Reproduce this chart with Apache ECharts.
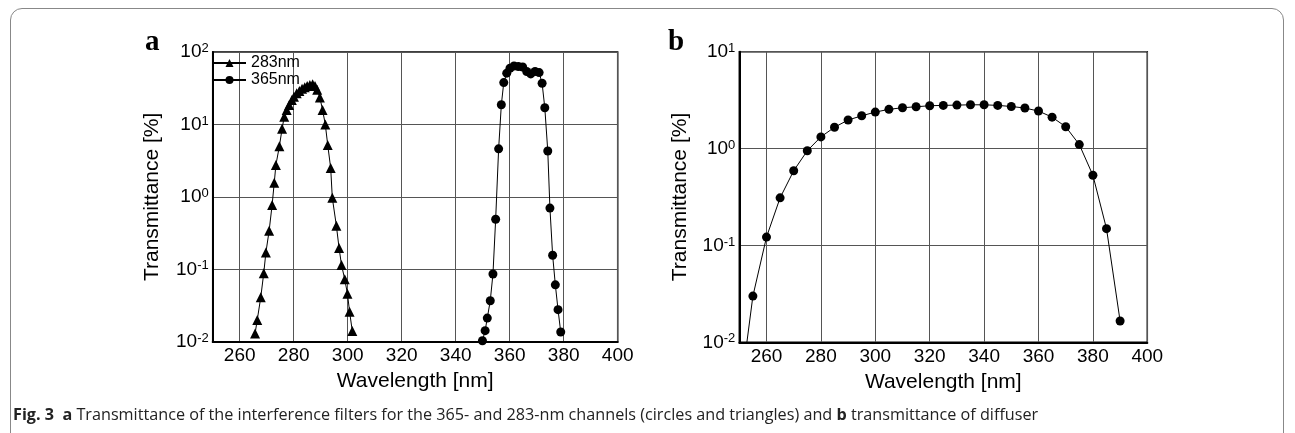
<!DOCTYPE html>
<html>
<head>
<meta charset="utf-8">
<script src="https://cdn.jsdelivr.net/npm/echarts@6/dist/echarts.min.js"></script>
<style>
  html, body { margin:0; padding:0; background:#fff; width:1295px; height:433px; overflow:hidden; }
  #frame { position:absolute; left:10px; top:8px; width:1274px; height:440px; border:1px solid #888; border-radius:12px; box-sizing:border-box; }
  #chart { position:absolute; left:0; top:0; width:1295px; height:433px; }
  #caption { position:absolute; left:13px; top:404px; font-family:'Open Sans', sans-serif; font-size:16.2px; line-height:20px; color:#222; white-space:nowrap; }
  #caption b { font-weight:700; }
</style>
</head>
<body>
<div id="frame"></div>
<div id="chart"></div>
<div id="caption"><b>Fig. 3</b>&nbsp; <b>a</b> Transmittance of the interference filters for the 365- and 283-nm channels (circles and triangles) and <b>b</b> transmittance of diffuser</div>
<script>
// ---- data ----
const xTicks = [260, 280, 300, 320, 340, 360, 380, 400];

const wl283 = [265.7, 266.5, 267.8, 268.9, 269.7, 270.9, 272.0, 272.8, 273.4, 274.7, 275.7, 276.5, 277.4, 278.3, 279.3, 280.1, 281.1, 282.1, 283.1, 284.1, 285.0, 286.0, 287.0, 287.9, 288.7, 289.7, 290.7, 291.7, 292.6, 293.7, 294.3, 295.8, 296.8, 297.7, 298.9, 299.9, 300.7, 301.7];
const t283 = [0.013, 0.020, 0.041, 0.088, 0.17, 0.34, 0.77, 1.57, 2.75, 5.0, 8.7, 12.8, 15.8, 18.5, 21.8, 24.2, 27, 29, 31, 32.7, 34, 35, 36, 34, 30, 23.5, 15.8, 10, 5.2, 2.5, 0.97, 0.40, 0.197, 0.115, 0.073, 0.046, 0.026, 0.014];

const wl365 = [349.9, 350.9, 351.7, 352.8, 353.8, 354.8, 355.9, 356.9, 357.8, 358.9, 360.1, 361.6, 363.2, 364.8, 366.3, 367.8, 369.4, 370.9, 372.0, 373.0, 374.1, 374.9, 375.9, 376.9, 377.9, 378.9];
const t365 = [0.0103, 0.0142, 0.0212, 0.0368, 0.086, 0.49, 4.6, 18.7, 37.8, 51, 59.7, 64, 63, 62, 53.7, 49.8, 53.7, 52, 37, 17, 4.3, 0.70, 0.156, 0.061, 0.0277, 0.0136];

const wlDiff = [250, 255, 260, 265, 270, 275, 280, 285, 290, 295, 300, 305, 310, 315, 320, 325, 330, 335, 340, 345, 350, 355, 360, 365, 370, 375, 380, 385, 390];
const tDiff = [0.0025, 0.030, 0.122, 0.31, 0.59, 0.95, 1.32, 1.66, 1.97, 2.18, 2.38, 2.54, 2.64, 2.70, 2.77, 2.79, 2.81, 2.83, 2.83, 2.79, 2.72, 2.62, 2.44, 2.11, 1.68, 1.10, 0.53, 0.149, 0.0166];

// ---- chart ----
const FONT = 'Liberation Sans, Arial, sans-serif';
const zip = (a, b) => a.map((v, i) => [v, b[i]]);

function xAxis(gi) {
  return {
    type: 'value', gridIndex: gi, min: 250, max: 400,
    axisLine: { show: true, onZero: false, lineStyle: { color: '#000', width: 2 } },
    axisTick: { show: false, customValues: xTicks },
    axisLabel: { customValues: xTicks, fontSize: 19, color: '#000', margin: 5, fontFamily: FONT },
    splitLine: { show: true, lineStyle: { color: '#555', width: 1 } },
    name: 'Wavelength [nm]', nameLocation: 'middle', nameGap: 29,
    nameTextStyle: { fontSize: 21, color: '#000', fontFamily: FONT }
  };
}
function yAxis(gi, min, max, gap) {
  return {
    type: 'log', logBase: 10, gridIndex: gi, min: min, max: max,
    axisLine: { show: true, lineStyle: { color: '#000', width: 2 } },
    axisTick: { show: false },
    axisLabel: {
      margin: 4, color: '#000',
      formatter: v => '{b|10}{s|' + Math.round(Math.log10(v)) + '}',
      rich: {
        b: { fontSize: 19, fontFamily: FONT, color: '#000', lineHeight: 20 },
        s: { fontSize: 13, fontFamily: FONT, color: '#000', verticalAlign: 'top', lineHeight: 20 }
      }
    },
    splitLine: { show: true, lineStyle: { color: '#555', width: 1 } },
    name: 'Transmittance [%]', nameLocation: 'middle', nameGap: gap,
    nameTextStyle: { fontSize: 21, color: '#000', fontFamily: FONT }
  };
}
function lineSeries(name, x, y, sym, size, gi) {
  return {
    type: 'line', name: name, xAxisIndex: gi, yAxisIndex: gi,
    data: zip(x, y), symbol: sym, symbolSize: size, showAllSymbol: true,
    clip: true, animation: false,
    itemStyle: { color: '#000', borderWidth: 0 },
    lineStyle: { color: '#000', width: 1 }
  };
}

const chart = echarts.init(document.getElementById('chart'), null, { renderer: 'canvas' });
chart.setOption({
  animation: false,
  grid: [
    { left: 212.7, top: 52, width: 405, height: 289.7, show: true, borderColor: '#000', borderWidth: 1.5, backgroundColor: 'transparent' },
    { left: 739.3, top: 51.7, width: 408, height: 290.6, show: true, borderColor: '#000', borderWidth: 1.5, backgroundColor: 'transparent' }
  ],
  xAxis: [xAxis(0), xAxis(1)],
  yAxis: [yAxis(0, 0.01, 100, 50), yAxis(1, 0.01, 10, 49)],
  legend: {
    data: ['283nm', '365nm'], orient: 'vertical', left: 212, top: 55,
    itemWidth: 33, itemHeight: 10, itemGap: 1, padding: 0,
    textStyle: { fontSize: 16, lineHeight: 14, color: '#000', fontFamily: FONT }
  },
  graphic: [
    { type: 'text', left: 145, top: 28, style: { text: 'a', font: 'bold 29px "Liberation Serif", serif', fill: '#000' } },
    { type: 'text', left: 668, top: 28, style: { text: 'b', font: 'bold 29px "Liberation Serif", serif', fill: '#000' } }
  ],
  series: [
    lineSeries('283nm', wl283, t283, 'triangle', 10, 0),
    lineSeries('365nm', wl365, t365, 'circle', 9, 0),
    lineSeries('diffuser', wlDiff, tDiff, 'circle', 9, 1)
  ]
});
</script>
</body>
</html>
